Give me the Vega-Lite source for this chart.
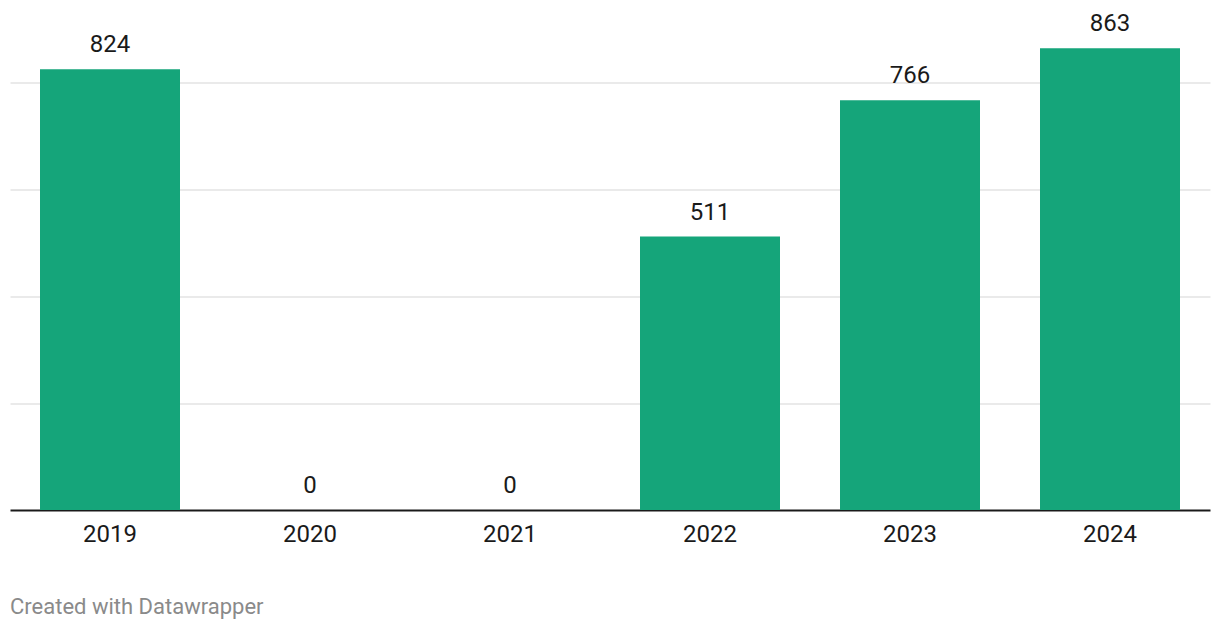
{
  "$schema": "https://vega.github.io/schema/vega-lite/v6.json",
  "autosize": "none",
  "width": 1200,
  "height": 481.5,
  "padding": {"left": 10, "top": 28.5, "right": 10, "bottom": 120},
  "background": "white",
  "data": {"values": [
    {"year": "2019", "value": 824},
    {"year": "2020", "value": 0},
    {"year": "2021", "value": 0},
    {"year": "2022", "value": 511},
    {"year": "2023", "value": 766},
    {"year": "2024", "value": 863}
  ]},
  "title": {
    "text": "Created with Datawrapper",
    "orient": "bottom",
    "anchor": "start",
    "offset": 51,
    "font": "Roboto",
    "fontSize": 22,
    "fontWeight": "normal",
    "color": "#8a8a8a"
  },
  "encoding": {
    "x": {
      "field": "year", "type": "nominal", "sort": null,
      "scale": {"paddingInner": 0.3, "paddingOuter": 0.15},
      "axis": {"title": null, "labelAngle": 0, "labelFont": "Roboto", "labelFontSize": 24, "labelColor": "#1a1a1a", "labelPadding": 12, "ticks": false, "domainColor": "#1a1a1a", "domainWidth": 2, "grid": false}
    },
    "y": {
      "field": "value", "type": "quantitative",
      "scale": {"domain": [0, 900], "nice": false},
      "axis": {"title": null, "labels": false, "ticks": false, "domain": false, "values": [200, 400, 600, 800], "grid": true, "gridColor": "#e3e3e3", "gridWidth": 1.5}
    }
  },
  "layer": [
    {"mark": {"type": "bar", "color": "#15a57a"}},
    {"mark": {"type": "text", "baseline": "alphabetic", "dy": -17, "font": "Roboto", "fontSize": 24, "color": "#1a1a1a", "clip": false},
     "encoding": {"text": {"field": "value", "type": "quantitative"}}}
  ],
  "config": {"view": {"stroke": null}}
}
